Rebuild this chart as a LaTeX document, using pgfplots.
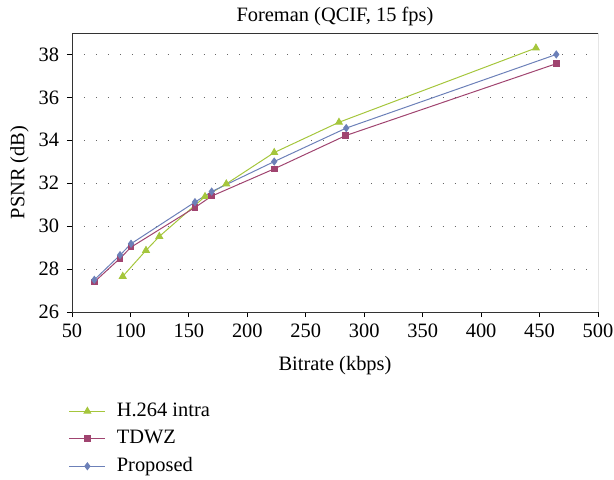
\documentclass[border=0pt]{standalone}
\usepackage{fontspec}
\setmainfont{Liberation Serif}
\usepackage{pgfplots}
\pgfplotsset{compat=1.18}
\definecolor{cgreen}{RGB}{165,198,60}
\definecolor{cred}{RGB}{160,68,112}
\definecolor{cblue}{RGB}{108,128,184}
\newcommand{\ff}{\fontsize{20.5}{24}\selectfont}
\begin{document}
\ff
\begin{tikzpicture}
\useasboundingbox (-72bp,-168bp) rectangle (542bp,312bp);
\begin{axis}[
  at={(0,0)}, anchor=south west,
  scale only axis,
  width=526bp, height=279bp,
  xmin=50, xmax=500, ymin=26, ymax=39,
  xtick={50,100,...,500},
  ytick={26,28,...,38},
  axis x line*=bottom, axis y line*=left,
  tick align=outside,
  major tick length=5bp,
  tick style={black, line width=0.8pt},
  axis line style={black!80, line width=0.8pt},
  every outer x axis line/.append style={-},
  every outer y axis line/.append style={-},
  /pgf/number format/assume math mode=true,
  ticklabel style={font=\ff},
  xticklabel style={yshift=0bp},
  yticklabel style={xshift=-1bp},
  label style={font=\ff},
  title style={font=\ff, yshift=-6bp},
  title={Foreman (QCIF, 15 fps)},
  xlabel={Bitrate (kbps)},
  ylabel={PSNR (dB)},
  xlabel style={yshift=-5bp},
  ylabel style={yshift=-4bp},
  ymajorgrids,
  major grid style={black!60, line width=0.9pt, dash pattern=on 0.9pt off 11.1pt},
  legend cell align=left,
  legend style={draw=none, fill=none, at={(rel axis cs:-0.012,-0.305)}, anchor=north west,
    font=\ff, row sep=3.5bp, nodes={text height=15bp, text depth=5bp, inner xsep=6bp},
    /tikz/every odd column/.append style={column sep=5bp}},
  legend image code/.code={%
    \draw[mark repeat=2,mark phase=2,#1] plot coordinates {(0bp,0bp) (18bp,0bp) (36bp,0bp)};},
]
\addplot[cgreen, line width=1pt, mark=triangle*, mark size=3.8bp, mark options={solid}] coordinates {
(93.4,27.66) (113.3,28.87) (124.7,29.52) (163.8,31.38) (182,31.97) (223,33.43) (278.4,34.84) (446.9,38.30)
};
\addlegendentry{H.264 intra}
\addplot[cred, line width=1pt, mark=square*, mark size=2.8bp] coordinates {
(69.1,27.40) (91.1,28.50) (100.5,29.02) (155.2,30.87) (169.5,31.40) (223,32.67) (284.1,34.22) (464.3,37.57)
};
\addlegendentry{TDWZ}
\addplot[cblue, line width=1pt, mark=diamond*, mark size=3.4bp] coordinates {
(69.1,27.50) (91.1,28.65) (100.5,29.18) (155.2,31.12) (169.5,31.61) (223,33.01) (284.6,34.57) (464.3,38.00)
};
\addlegendentry{Proposed}
\draw[black!80, line width=0.8pt] (rel axis cs:0,1) -- (rel axis cs:1,1) -- (rel axis cs:1,0);
\end{axis}
\end{tikzpicture}
\end{document}
